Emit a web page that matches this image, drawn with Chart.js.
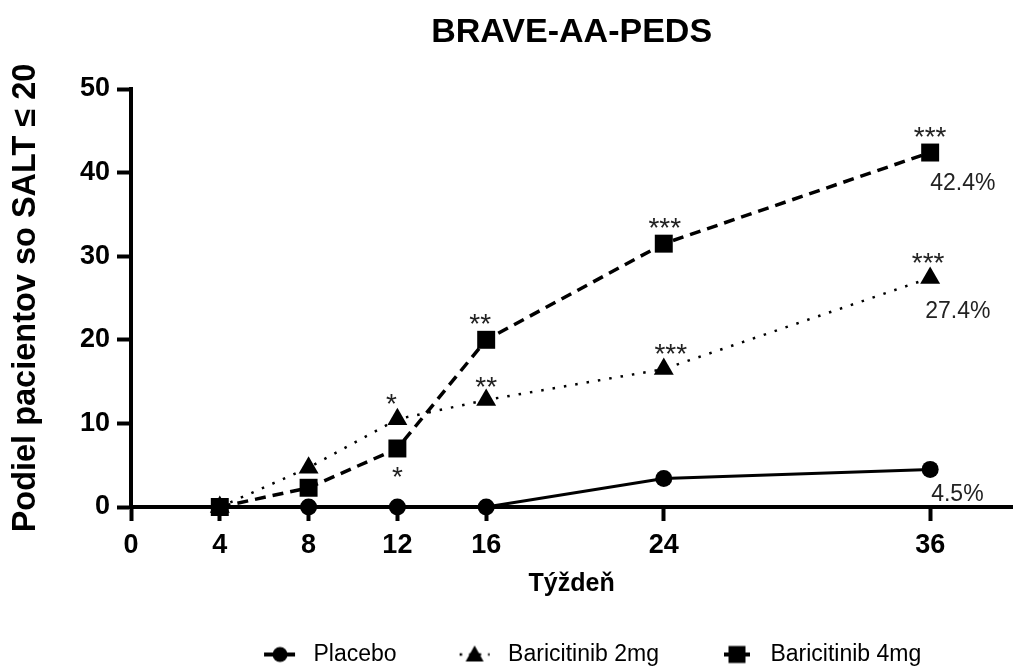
<!DOCTYPE html>
<html>
<head>
<meta charset="utf-8">
<title>BRAVE-AA-PEDS</title>
<script src="https://cdn.jsdelivr.net/npm/chart.js@4.4.1/dist/chart.umd.min.js"></script>
<style>
  html, body { margin: 0; padding: 0; background: #fff; overflow: hidden; }
  canvas { display: block; }
</style>
</head>
<body>
<canvas id="chart" width="1025" height="666"></canvas>
<script>
// values (% of patients with SALT <= 20)
const weeks = [4, 8, 12, 16, 24, 36];
const placebo = [0, 0, 0, 0, 3.4, 4.5];
const bari2mg = [0, 4.7, 10.5, 12.8, 16.5, 27.4];
const bari4mg = [0, 2.3, 7.0, 20.0, 31.5, 42.4];
const xTicks = [0, 4, 8, 12, 16, 24, 36];
const seriesNames = ['Placebo', 'Baricitinib 2mg', 'Baricitinib 4mg'];
const sig2mg = ['', '', '*', '**', '***', '***'];
const sig4mg = ['', '', '*', '**', '***', '***'];
const endLabels = ['4.5%', '27.4%', '42.4%'];

const FONT = '"Liberation Sans", Arial, sans-serif';
Chart.defaults.font.family = FONT;
Chart.defaults.color = '#000';

function toXY(values) {
  return weeks.map((w, i) => ({ x: w, y: values[i] }));
}

// small picture for the legend: line piece + marker
function legendIcon(kind) {
  const c = document.createElement('canvas');
  c.width = 80;
  c.height = 24;
  const ctx = c.getContext('2d');
  const cx = 58;
  const cy = 12;
  ctx.strokeStyle = '#000';
  ctx.fillStyle = '#000';
  ctx.beginPath();
  if (kind === 'dot') {
    ctx.lineWidth = 2.5;
    ctx.setLineDash([2.5, 7]);
    ctx.moveTo(cx - 15, cy);
    ctx.lineTo(cx + 15, cy);
  } else {
    ctx.lineWidth = 4;
    ctx.moveTo(cx - (kind === 'rect' ? 13 : 16), cy);
    ctx.lineTo(cx + (kind === 'rect' ? 13 : 15), cy);
  }
  ctx.stroke();
  ctx.setLineDash([]);
  ctx.beginPath();
  if (kind === 'circle') {
    ctx.arc(cx, cy, 7.5, 0, Math.PI * 2);
  } else if (kind === 'dot') {
    ctx.moveTo(cx, cy - 9);
    ctx.lineTo(cx + 9, cy + 7);
    ctx.lineTo(cx - 9, cy + 7);
    ctx.closePath();
  } else {
    ctx.rect(cx - 8.5, cy - 8.5, 17, 17);
  }
  ctx.fill();
  return c;
}

const icons = [legendIcon('circle'), legendIcon('dot'), legendIcon('rect')];

// asterisks and end-point percentages
const annotations = {
  id: 'annotations',
  afterDatasetsDraw(chart) {
    const { ctx } = chart;
    const xs = chart.scales.x;
    const ys = chart.scales.y;
    ctx.save();
    ctx.fillStyle = '#222';
    ctx.textAlign = 'center';
    ctx.textBaseline = 'alphabetic';
    ctx.font = `28px ${FONT}`;
    const star = (txt, w, v, dx, dy) => {
      if (!txt) return;
      ctx.fillText(txt, xs.getPixelForValue(w) + dx, ys.getPixelForValue(v) + dy + 16);
    };
    const dx2 = [0, 0, -6, 0, 7, -2];
    const dx4 = [0, 0, 0, -6, 1, 0];
    weeks.forEach((w, i) => {
      star(sig2mg[i], w, bari2mg[i], dx2[i], i === 3 ? -20 : -22);
      star(sig4mg[i], w, bari4mg[i], dx4[i], i === 2 ? 22 : -23);
    });

    ctx.font = `23px ${FONT}`;
    ctx.textAlign = 'left';
    ctx.textBaseline = 'middle';
    const last = weeks.length - 1;
    const ends = [
      [placebo[last], 1, 25],
      [bari2mg[last], -5, 34],
      [bari4mg[last], 0, 31],
    ];
    ends.forEach(([v, dx, dy], i) => {
      ctx.fillText(endLabels[i], xs.getPixelForValue(weeks[last]) + dx, ys.getPixelForValue(v) + dy);
    });
    ctx.restore();
  },
};

const axisGrid = {
  display: true,
  drawOnChartArea: false,
  drawTicks: true,
  tickLength: 14,
  tickWidth: 4,
  tickColor: '#000',
};

new Chart(document.getElementById('chart'), {
  type: 'line',
  data: {
    datasets: [
      {
        label: seriesNames[0],
        data: toXY(placebo),
        borderColor: '#000',
        borderWidth: 3,
        pointStyle: 'circle',
        pointRadius: 8.5,
        pointBackgroundColor: '#000',
        pointBorderColor: '#000',
        pointBorderWidth: 0,
        order: 2,
        clip: false,
      },
      {
        label: seriesNames[1],
        data: toXY(bari2mg),
        borderColor: '#000',
        borderWidth: 2.5,
        borderDash: [2.5, 9],
        pointStyle: 'triangle',
        pointRadius: 11.5,
        pointBackgroundColor: '#000',
        pointBorderColor: '#000',
        pointBorderWidth: 0,
        order: 1,
        clip: false,
      },
      {
        label: seriesNames[2],
        data: toXY(bari4mg),
        borderColor: '#000',
        borderWidth: 3.5,
        borderDash: [11, 7],
        pointStyle: 'rect',
        pointRadius: 12.7,
        pointBackgroundColor: '#000',
        pointBorderColor: '#000',
        pointBorderWidth: 0,
        order: 0,
        clip: false,
      },
    ],
  },
  options: {
    responsive: false,
    animation: false,
    events: [],
    layout: { padding: { top: 0, left: 0, right: 7, bottom: -10 } },
    elements: { line: { tension: 0 } },
    plugins: {
      tooltip: { enabled: false },
      title: {
        display: true,
        text: 'BRAVE-AA-PEDS',
        fullSize: false,
        color: '#000',
        font: { size: 34, weight: 'bold' },
        padding: { top: 12, bottom: 36.2 },
      },
      legend: {
        position: 'bottom',
        fullSize: false,
        labels: {
          usePointStyle: true,
          pointStyleWidth: 80,
          padding: 20,
          color: '#000',
          font: { size: 23 },
          generateLabels: () =>
            seriesNames.map((name, i) => ({
              text: name,
              pointStyle: icons[i],
              fillStyle: '#000',
              strokeStyle: '#000',
              lineWidth: 0,
              hidden: false,
              datasetIndex: i,
              fontColor: '#000',
            })),
        },
      },
    },
    scales: {
      x: {
        type: 'linear',
        min: 0,
        max: 39.7,
        afterBuildTicks: (scale) => {
          scale.ticks = xTicks.map((v) => ({ value: v }));
        },
        afterFit: (scale) => {
          scale.height = 116;
        },
        border: { display: true, width: 4, color: '#000' },
        grid: axisGrid,
        ticks: {
          autoSkip: false,
          maxRotation: 0,
          padding: 8,
          color: '#000',
          font: { size: 27, weight: 'bold' },
        },
        title: {
          display: true,
          text: 'Týždeň',
          color: '#000',
          font: { size: 25, weight: 'bold' },
          padding: { top: 0, bottom: 24 },
        },
      },
      y: {
        min: 0,
        max: 50,
        afterFit: (scale) => {
          scale.width = 131;
        },
        border: { display: true, width: 4, color: '#000' },
        grid: axisGrid,
        ticks: {
          stepSize: 10,
          padding: 7,
          color: '#000',
          font: { size: 27, weight: 'bold' },
        },
        title: {
          display: true,
          text: 'Podiel pacientov so SALT ≤ 20',
          color: '#000',
          font: { size: 32.5, weight: 'bold' },
          padding: { top: 7, bottom: 0 },
        },
      },
    },
  },
  plugins: [annotations],
});
</script>
</body>
</html>
